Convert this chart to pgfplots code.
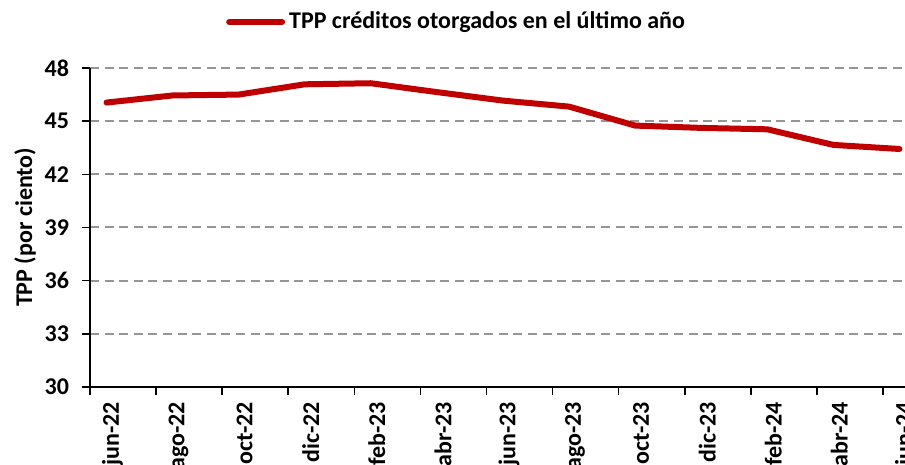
\documentclass[border=0pt]{standalone}
\usepackage{pgfplots}
\pgfplotsset{compat=1.18}
\usepackage{fontspec}
\setmainfont{Carlito}
\definecolor{tppred}{RGB}{192,0,0}
\definecolor{gridgray}{RGB}{150,150,150}
\begin{document}
\begin{tikzpicture}
\begin{axis}[
  scale only axis,
  width=413pt, height=159.5pt,
  at={(0,0)}, anchor=south west,
  xmin=-0.5, xmax=24.5,
  ymin=30, ymax=48,
  ytick={30,33,...,48},
  xtick={-0.5,1.5,...,23.5},
  xticklabels={jun-22,ago-22,oct-22,dic-22,feb-23,abr-23,jun-23,ago-23,oct-23,dic-23,feb-24,abr-24,jun-24},
  axis x line*=bottom, axis y line*=left,
  axis line style={black, line width=0.8pt, -},
  tick style={black, line width=0.8pt},
  major tick length=4pt,
  tick align=outside,
  ymajorgrids,
  grid style={gridgray, line width=1pt, dash pattern=on 4.5pt off 2.8pt},
  font=\fontsize{12}{14}\selectfont\bfseries,
  /pgf/number format/assume math mode=true,
  yticklabel style={font=\fontsize{12}{14}\selectfont\bfseries, xshift=-3pt},
  xticklabel style={font=\fontsize{12}{14}\selectfont\bfseries, xshift=8.26pt, rotate=90, anchor=east, yshift=-3pt},
  ylabel={TPP (por ciento)},
  every axis y label/.style={at={(axis description cs:-0.0787,0.5)}, rotate=90, anchor=center, font=\fontsize{12}{14}\selectfont\bfseries},
  legend style={at={(axis description cs:0.445,1)}, anchor=center, yshift=23pt, draw=none, fill=none, font=\fontsize{12}{14}\selectfont\bfseries, inner sep=0pt},
  legend image code/.code={\draw[#1, line width=3pt] (0pt,0pt) -- (26.5pt,0pt);},
  clip=false,
]
\addplot[tppred, line width=3pt, line join=round, line cap=round] coordinates {
(0,46.05) (2,46.45) (4,46.50) (6,47.08) (8,47.14) (10,46.64)
(12,46.16) (14,45.82) (16,44.75) (18,44.62) (20,44.54) (22,43.66) (24,43.43)
};
\addlegendentry{TPP créditos otorgados en el último año}
\end{axis}
\pgfresetboundingbox
\path[use as bounding box] (-45pt,-39pt) rectangle (407.5pt,193.5pt);
\end{tikzpicture}
\end{document}
